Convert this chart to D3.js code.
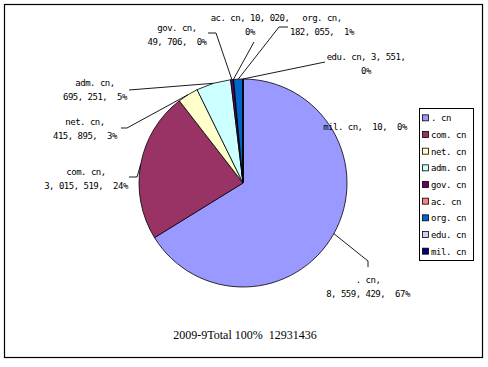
<!DOCTYPE html>
<html><head><meta charset="utf-8">
<script src="https://cdn.jsdelivr.net/npm/d3@7"></script>
<style>
html,body{margin:0;padding:0;background:#fff;}
svg{display:block;}
text{white-space:pre;}
</style></head>
<body>
<svg id="chart" width="488" height="367"></svg>
<script>
// ---- data ----
const categories = [". cn", "com. cn", "net. cn", "adm. cn", "gov. cn", "ac. cn", "org. cn", "edu. cn", "mil. cn"];
const values = [8559429, 3015519, 415895, 695251, 49706, 10020, 182055, 3551, 10];
const pctLabels = ["67%", "24%", "3%", "5%", "0%", "0%", "1%", "0%", "0%"];
const colors = ["#9999FF", "#993366", "#FFFFCC", "#CCFFFF", "#660066", "#FF8080", "#0066CC", "#CCCCFF", "#000080"];
const titleText = "2009-9Total 100%  12931436";

// ---- layout (positions of labels; not data) ----
const layout = {
  ". cn":    {x: 368, y: 280, groups: [[0],[1,2]], leader: [[368,261],[368,267]]},
  "com. cn": {x: 86,  y: 172, groups: [[0],[1,2]], leader: [[137,177],[129,177]]},
  "net. cn": {x: 85,  y: 122, groups: [[0],[1,2]], leader: [[127,128],[121,128]]},
  "adm. cn": {x: 95,  y: 83,  groups: [[0],[1,2]], leader: [[129,90]]},
  "gov. cn": {x: 177, y: 28,  groups: [[0],[1,2]], leader: [[216,33],[208,33]]},
  "ac. cn":  {x: 250, y: 18,  groups: [[0,1],[2]], leader: [[254,42]]},
  "org. cn": {x: 322, y: 18,  groups: [[0],[1,2]], leader: [[279,27],[288,27]]},
  "edu. cn": {x: 366, y: 57,  groups: [[0,1],[2]], leader: [[325,62]]},
  "mil. cn": {x: 365, y: 127, groups: [[0,1,2]], leader: null}
};

const svg = d3.select("#chart");

// frame
svg.append("rect").attr("x", 4.5).attr("y", 4.5).attr("width", 478).attr("height", 353)
  .attr("fill", "#fff").attr("stroke", "#000").attr("stroke-width", 1.2);

const cx = 243, cy = 183, r = 104;
const data = categories.map((c, i) => ({name: c, value: values[i], pct: pctLabels[i], color: colors[i]}));

const pie = d3.pie().sort(null).value(d => d.value).startAngle(0).endAngle(2 * Math.PI);
const arcs = pie(data);
const arc = d3.arc().innerRadius(0).outerRadius(r);
const edgeArc = d3.arc().innerRadius(r).outerRadius(r);

const g = svg.append("g").attr("transform", `translate(${cx},${cy})`);
g.selectAll("path.slice").data(arcs).join("path")
  .attr("class", "slice")
  .attr("d", arc)
  .attr("fill", d => d.data.color)
  .attr("stroke", "#000")
  .attr("stroke-width", 0.8)
  .attr("stroke-linejoin", "round");

// leader lines
const fmt = v => d3.format(",")(v).replace(/,/g, ", ");
arcs.forEach(a => {
  const L = layout[a.data.name];
  if (!L.leader) return;
  const c = edgeArc.centroid(a);
  const pts = [[cx + c[0], cy + c[1]], ...L.leader];
  svg.append("path")
    .attr("d", d3.line()(pts))
    .attr("fill", "none").attr("stroke", "#000").attr("stroke-width", 0.9);
});

// labels
const labelFont = "'DejaVu Sans Mono', 'Liberation Mono', monospace";
arcs.forEach(a => {
  const d = a.data;
  const L = layout[d.name];
  const parts = [d.name + ",", fmt(d.value) + ",", d.pct];
  L.groups.forEach((grp, li) => {
    svg.append("text")
      .attr("x", L.x).attr("y", L.y + li * 14)
      .attr("text-anchor", "middle")
      .attr("dominant-baseline", "central")
      .attr("font-family", labelFont)
      .attr("font-size", 9)
      .attr("letter-spacing", -0.5)
      .attr("fill", "#000")
      .text(grp.map(k => parts[k]).join(grp.length > 2 || d.pct === "67%" || d.pct === "24%" ? "  " : (grp[0] === 0 && grp.length === 2 ? " " : "  ")));
  });
});

// legend
const lg = svg.append("g");
lg.append("rect").attr("x", 419.5).attr("y", 108.5).attr("width", 54).attr("height", 152)
  .attr("fill", "#fff").attr("stroke", "#000").attr("stroke-width", 1);
const ly = d3.scaleBand().domain(categories).range([110, 260]);
const items = lg.selectAll("g.item").data(data).join("g").attr("class", "item")
  .attr("transform", d => `translate(0,${ly(d.name) + ly.bandwidth() / 2})`);
items.append("rect").attr("x", 422.5).attr("y", -3.5).attr("width", 6).attr("height", 6)
  .attr("fill", d => d.color).attr("stroke", "#000").attr("stroke-width", 0.8);
items.append("text").attr("x", 431).attr("y", 0)
  .attr("dominant-baseline", "central")
  .attr("font-family", labelFont).attr("font-size", 9).attr("letter-spacing", -0.4)
  .text(d => d.name);

// title
svg.append("text").attr("x", 245).attr("y", 335)
  .attr("text-anchor", "middle").attr("dominant-baseline", "central")
  .attr("font-family", "'Liberation Serif', 'Times New Roman', serif")
  .attr("font-size", 12)
  .text(titleText);
</script>
</body></html>
